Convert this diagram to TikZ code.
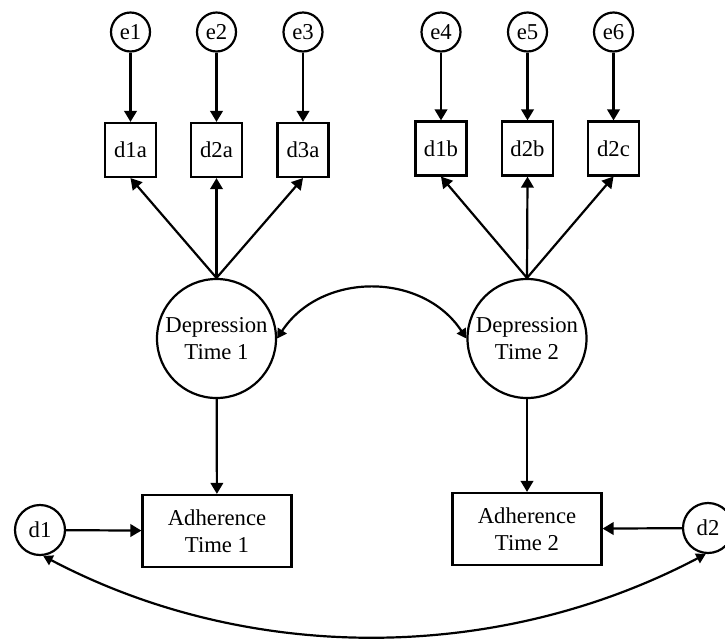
\documentclass[tikz,border=0pt]{standalone}
\usepackage{fontspec}
\setmainfont{Liberation Serif}
\usetikzlibrary{arrows.meta}
\begin{document}
\begin{tikzpicture}[x=1pt,y=-1pt,
  every node/.style={font=\fontsize{22.7}{26.5}\selectfont, line width=2.2pt, draw, inner sep=0pt, align=center},
  err/.style={circle, minimum size=39pt},
  dist/.style={circle, minimum size=50pt},
  lat/.style={circle, minimum size=119pt},
  obs/.style={rectangle, minimum width=51pt, minimum height=54pt},
  outc/.style={rectangle, minimum width=149pt, minimum height=72pt},
  conn/.style={line width=2.2pt, -{Triangle[length=11pt,width=12.5pt]}},
  cov/.style={line width=2.2pt, {Triangle[length=9.5pt,width=10.5pt]}-{Triangle[length=9.5pt,width=10.5pt]}}
]
\useasboundingbox (0,0) rectangle (725,641);
% error terms
\node[err] (e1) at (130.5,32) {e1};
\node[err] (e2) at (216.5,32) {e2};
\node[err] (e3) at (303,32) {e3};
\node[err] (e4) at (441,32) {e4};
\node[err] (e5) at (527.5,32) {e5};
\node[err] (e6) at (613.5,32) {e6};
% indicators
\node[obs] (d1a) at (130.5,150) {d1a};
\node[obs] (d2a) at (216.5,150) {d2a};
\node[obs] (d3a) at (303,150) {d3a};
\node[obs] (d1b) at (441,148.5) {d1b};
\node[obs] (d2b) at (527.5,148.5) {d2b};
\node[obs] (d2c) at (613.5,148.5) {d2c};
% latent
\node[lat] (dt1) at (216.5,338.5) {Depression\\Time 1};
\node[lat] (dt2) at (527,338.5) {Depression\\Time 2};
% outcomes
\node[outc] (at1) at (217,531) {Adherence\\Time 1};
\node[outc] (at2) at (527,529) {Adherence\\Time 2};
% disturbances
\node[dist] (d1) at (40,530) {d1};
\node[dist] (d2) at (708,528) {d2};
% error arrows
\draw[conn] (e1) -- (d1a);
\draw[conn] (e2) -- (d2a);
\draw[conn] (e3) -- (d3a);
\draw[conn] (e4) -- (d1b);
\draw[conn] (e5) -- (d2b);
\draw[conn] (e6) -- (d2c);
% loadings
\draw[conn] (dt1.north) -- (d1a.south);
\draw[conn] (dt1.north) -- (d2a.south);
\draw[conn] (dt1.north) -- (d3a.south);
\draw[conn] (dt2.north) -- (d1b.south);
\draw[conn] (dt2.north) -- (d2b.south);
\draw[conn] (dt2.north) -- (d2c.south);
% structural paths
\draw[conn] (dt1) -- (at1);
\draw[conn] (dt2) -- (at2);
\draw[conn] (d1) -- (at1);
\draw[conn] (d2) -- (at2);
% covariances
\draw[cov] (dt1.east) .. controls +(44,-67) and +(-44,-67) .. (dt2.west);
\draw[cov] (d1.-83) .. controls +(207,109) and +(-207,109) .. (d2.-95);
\end{tikzpicture}
\end{document}
